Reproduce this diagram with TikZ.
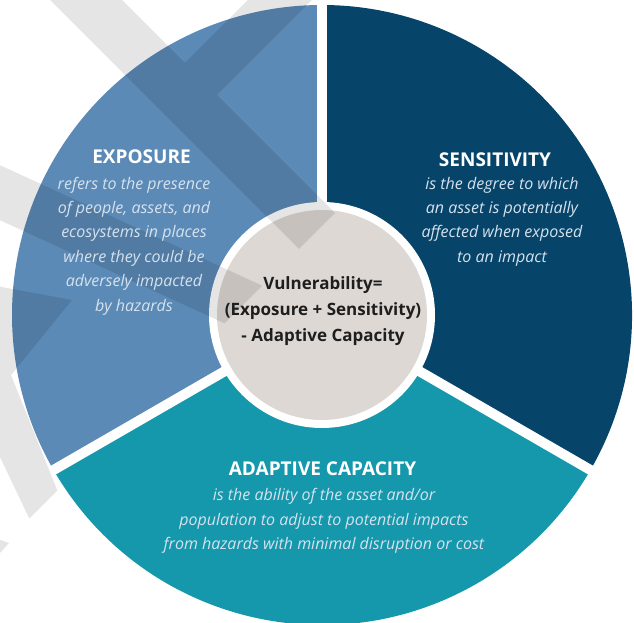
\documentclass[tikz,border=0pt]{standalone}
\usepackage{fontspec}
\setmainfont{Open Sans}
\definecolor{exposure}{HTML}{5B8AB6}
\definecolor{sensitivity}{HTML}{07446A}
\definecolor{adaptive}{HTML}{1598AB}
\definecolor{core}{HTML}{DDD8D3}
\definecolor{softtext}{HTML}{D6E2EE}
\definecolor{coretext}{HTML}{1E1E1E}
\begin{document}
\begin{tikzpicture}[x=1pt,y=1pt,
  heading/.style={text=white,font=\fontsize{19}{22}\selectfont\bfseries},
  blurb/.style={text=softtext,align=center,font=\fontsize{16}{24.4}\selectfont\itshape},
  formula/.style={text=coretext,align=center,font=\fontsize{17}{26}\selectfont\bfseries}]
  \useasboundingbox (0,0) rectangle (634,623);
  \coordinate (o) at (322,308);
  % three slices of the wheel
  \fill[exposure] (o) -- ++(90:310) arc[start angle=90,end angle=210,radius=310] -- cycle;
  \fill[sensitivity] (o) -- ++(-30:310) arc[start angle=-30,end angle=90,radius=310] -- cycle;
  \fill[adaptive] (o) -- ++(210:310) arc[start angle=210,end angle=330,radius=310] -- cycle;
  % white gaps and the hub
  \foreach \a in {90,210,330}
    \draw[white,line width=10pt] (o) -- ++(\a:320);
  \fill[white] (o) circle[radius=113];
  \fill[core] (o) circle[radius=105];
  % faint stripes behind the text (screen coordinates, y down)
  \begin{scope}[shift={(0,623)},yscale=-1]
    \begin{scope}
      \clip (-60,-60) -- (608,-60) -- (-60,608) -- cycle;
      \fill[black,fill opacity=0.1]
        (30,-20) -- (102,-20) -- (402,280) -- (330,280) -- cycle
        (268,-20) -- (332,-20) -- (217,95) -- (185,63) -- cycle
        (-20,156) -- (400,349) -- (400,404) -- (-20,211) -- cycle
        (-20,283) -- (72,300) -- (11,375) -- (80,547) -- (50,562) -- (-20,415) -- cycle;
    \end{scope}
    \fill[black,fill opacity=0.1] (0,540) -- (9,543) -- (0,553) -- cycle;
  \end{scope}
  % labels
  \node[heading] (exptitle) at (141.5,466) {EXPOSURE};
  \node[blurb] (exptext) at (134,377) {refers to the presence\\of people, assets, and\\ecosystems in places\\where they could be\\adversely impacted\\by hazards};
  \node[heading] (senstitle) at (495,463) {SENSITIVITY};
  \node[blurb] (senstext) at (502,401.5) {is the degree to which\\an asset is potentially\\affected when exposed\\to an impact};
  \node[heading] (adapttitle) at (322.5,154) {ADAPTIVE CAPACITY};
  \node[blurb] (adapttext) at (324,102) {is the ability of the asset and/or\\population to adjust to potential impacts\\from hazards with minimal disruption or cost};
  \node[formula] (vuln) at (323,312) {Vulnerability=\\(Exposure + Sensitivity)\\- Adaptive Capacity};
\end{tikzpicture}
\end{document}
